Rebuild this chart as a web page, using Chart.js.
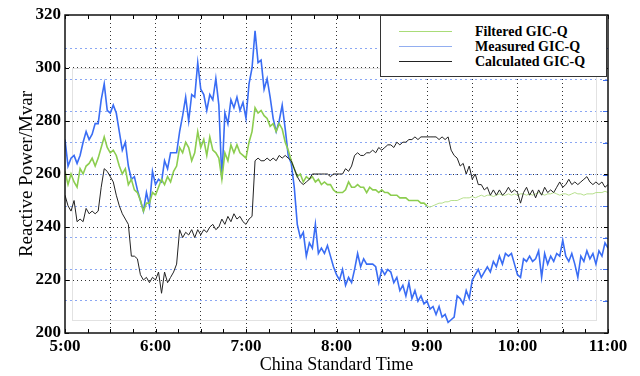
<!DOCTYPE html>
<html>
<head>
<meta charset="utf-8">
<title>Reactive power</title>
<script src="https://cdn.jsdelivr.net/npm/chart.js@4.4.0/dist/chart.umd.min.js"></script>
<style>
  html, body { margin: 0; padding: 0; background: #fff; }
  #wrap { position: relative; width: 640px; height: 376px; }
  #legend {
    position: absolute; left: 380px; top: 15px; width: 227px; height: 62px;
    box-sizing: border-box; border: 1px solid #333; background: #fff;
    padding-top: 8px;
    font: bold 14px "Liberation Serif", "Times New Roman", serif; color: #000;
  }
  .row { display: flex; align-items: center; height: 15px; }
  .swatch { width: 53px; margin-left: 18px; margin-right: 23px; border-top: 1.5px solid; }
</style>
</head>
<body>
<div id="wrap">
  <canvas id="chart" width="640" height="376"></canvas>
  <div id="legend">
    <div class="row"><span class="swatch" style="border-color:#a9dc78"></span>Filtered GIC-Q</div>
    <div class="row"><span class="swatch" style="border-color:#92aef0"></span>Measured GIC-Q</div>
    <div class="row"><span class="swatch" style="border-color:#222"></span>Calculated GIC-Q</div>
  </div>
</div>
<script>
// samples every 2 minutes starting at 5:00
const sampleStep = 2;

const timeLabels = ["5:00", "6:00", "7:00", "8:00", "9:00", "10:00", "11:00"];
const yTicks = [200, 220, 240, 260, 280, 300, 320];
// blue dotted lines of the overlaid second axis
const blueGrid = [212.1, 224.0, 236.0, 247.9, 259.8, 271.7, 283.7, 295.6, 307.5];

const measured = [
  273, 263, 266, 267, 264, 267, 272, 276, 273, 275,
  279, 279, 288, 294, 284, 283, 286, 283, 276, 269,
  272, 263, 258, 259, 254, 250, 246, 253, 248, 261,
  256, 258, 257, 265, 262, 268, 268, 268, 276, 282,
  289, 280, 290, 289, 302, 292, 290, 284, 290, 288,
  296, 286, 258, 283, 279, 288, 285, 289, 284, 287,
  281, 294, 300, 314, 302, 303, 292, 296, 289, 281,
  276, 280, 286, 277, 267, 264, 255, 241, 236, 238,
  229, 234, 232, 241, 230, 232, 230, 233, 229, 225,
  222, 220, 224, 218, 221, 219, 224, 230, 225, 228,
  226, 226, 226, 225, 219, 224, 222, 224, 223, 219,
  221, 216, 218, 214, 219, 213, 216, 212, 214, 211,
  212, 209, 210, 207, 210, 206, 207, 204, 205, 206,
  214, 213, 211, 216, 213, 220, 222, 224, 221, 223,
  225, 223, 227, 225, 229, 226, 230, 229, 230, 226,
  222, 221, 228, 227, 229, 227, 228, 231, 221, 230,
  226, 229, 227, 230, 229, 235, 229, 227, 230, 226,
  221, 229, 227, 231, 228, 230, 226, 231, 229, 234,
  232
];

const filtered = [
  261, 256, 260, 257, 255, 262, 260, 263, 264, 266,
  263, 266, 270, 274, 270, 268, 269, 267, 263, 260,
  262, 256, 258, 254, 253, 250, 246, 249, 249, 253,
  252, 255, 258, 256, 259, 257, 261, 263, 270, 268,
  272, 270, 265, 268, 276, 270, 273, 267, 274, 269,
  268, 266, 258, 268, 265, 271, 268, 271, 268, 267,
  266, 272, 276, 285, 283, 284, 282, 281, 278, 279,
  276, 279, 277, 272, 269, 265, 262, 259, 260, 257,
  259, 258, 259, 257, 258, 256, 257, 256, 256, 254,
  253, 253, 253, 254, 257, 255, 255, 256, 255, 255,
  253, 255, 254, 254, 253, 254, 253, 253, 252, 252,
  252, 251, 251, 251, 250, 250, 250, 250, 249, 249,
  248, 247.5, 248, 248.5, 249, 249, 249.5, 249.5, 250, 250,
  250, 250.5, 251, 251, 251, 251.5, 251, 251.5, 252, 251.5,
  252, 252, 251.5, 252, 252.5, 252, 252, 252.5, 252, 252.5,
  252, 252.5, 252.5, 252, 252.5, 252, 252.5, 253, 252.5, 252,
  252.5, 252.5, 253, 252.5, 252, 252.5, 252.5, 252, 252.5, 253,
  252.5, 252.5, 252, 252.5, 252.5, 252.5, 253, 253, 253, 253.5,
  253
];

const calculated = [
  252, 248, 246, 250, 242, 243, 242, 247, 245, 246,
  245, 246, 255, 262, 261, 259, 257, 252, 248, 245,
  243, 241, 229, 229, 228, 222, 220, 221, 219, 221,
  220, 223, 215, 223, 219, 221, 223, 226, 239, 236,
  238, 237, 239, 236, 239, 237, 239, 238, 240, 241,
  239, 240, 243, 241, 244, 242, 245, 243, 244, 242,
  241, 243, 244, 265, 266, 265, 265, 266, 265, 266,
  265, 267, 266, 267, 266, 265, 262, 259, 257, 256,
  257, 258, 260, 260, 260, 260, 260, 260, 259, 260,
  260, 260, 260, 262, 261, 263, 267, 268, 267, 267,
  268, 268, 269, 268, 270, 269, 270, 271, 271, 270,
  272, 271, 272, 272, 273, 273, 274, 273, 274, 274,
  274, 274, 274, 274, 273, 274, 273, 274, 269, 267,
  266, 263, 264, 260, 263, 258, 260, 256, 256, 254,
  255, 252, 254, 252, 254, 252, 253, 255, 253, 254,
  253, 249, 253, 255, 252, 254, 251, 254, 252, 255,
  253, 254, 253, 255, 257, 255, 256, 258, 256, 257,
  256, 257, 258, 259, 257, 256, 257, 256, 257, 255,
  256
];

const serif = '"Liberation Serif", "Times New Roman", serif';

function toPoints(values) {
  return values.map((v, i) => ({ x: i * sampleStep, y: v }));
}

// faint inner box left over from the overlaid axes (minutes / Mvar)
const innerBox = { x0: 4.6, x1: 352, y0: 205, y1: 300 };

const framePlugin = {
  id: "framePlugin",
  beforeDatasetsDraw(chart) {
    const { ctx, scales: { x, y } } = chart;
    const l = Math.round(x.getPixelForValue(innerBox.x0)) + 0.5;
    const r = Math.round(x.getPixelForValue(innerBox.x1)) + 0.5;
    const t = Math.round(y.getPixelForValue(innerBox.y1)) + 0.5;
    const b = Math.round(y.getPixelForValue(innerBox.y0)) + 0.5;
    ctx.save();
    ctx.strokeStyle = "#e2e2e2";
    ctx.lineWidth = 1;
    ctx.strokeRect(l, t, r - l, b - t);
    ctx.restore();
  },
  afterDatasetsDraw(chart) {
    const { ctx, chartArea: a, scales: { x, y } } = chart;
    ctx.save();
    // inward tick marks
    ctx.strokeStyle = "#000";
    ctx.lineWidth = 1;
    ctx.beginPath();
    x.ticks.forEach((t) => {
      const px = Math.round(x.getPixelForValue(t.value)) + 0.5;
      ctx.moveTo(px, a.bottom);
      ctx.lineTo(px, a.bottom - 4);
      ctx.moveTo(px, a.top);
      ctx.lineTo(px, a.top + 4);
    });
    yTicks.forEach((v) => {
      const py = Math.round(y.getPixelForValue(v)) + 0.5;
      ctx.moveTo(a.left, py);
      ctx.lineTo(a.left + 4, py);
      ctx.moveTo(a.right, py);
      ctx.lineTo(a.right - 4, py);
    });
    ctx.stroke();
    ctx.strokeStyle = "#3d6ff0";
    ctx.beginPath();
    blueGrid.forEach((v) => {
      const py = Math.round(y.getPixelForValue(v)) + 0.5;
      ctx.moveTo(a.right, py);
      ctx.lineTo(a.right - 5, py);
    });
    ctx.stroke();
    // plot frame
    ctx.strokeStyle = "#111";
    ctx.lineWidth = 1.5;
    ctx.strokeRect(a.left, a.top, a.right - a.left, a.bottom - a.top);
    ctx.restore();
  },
};

new Chart(document.getElementById("chart"), {
  type: "line",
  data: {
    datasets: [
      {
        label: "Calculated GIC-Q",
        data: toPoints(calculated),
        borderColor: "#222",
        borderWidth: 1,
        pointRadius: 0,
      },
      {
        label: "Filtered GIC-Q",
        data: toPoints(filtered),
        borderColor: "#8ccd4f",
        borderWidth: 1.6,
        pointRadius: 0,
        segment: {
          borderColor: (c) => (c.p0.parsed.x >= 240 ? "#b6df8c" : undefined),
          borderWidth: (c) => (c.p0.parsed.x >= 240 ? 1 : undefined),
        },
      },
      {
        label: "Measured GIC-Q",
        data: toPoints(measured),
        borderColor: "#3a6df4",
        borderWidth: 1.6,
        pointRadius: 0,
      },
    ],
  },
  options: {
    responsive: false,
    animation: false,
    devicePixelRatio: 1,
    layout: { padding: { top: 15, right: 32, left: 0, bottom: 0 } },
    plugins: {
      legend: { display: false },
      tooltip: { enabled: false },
    },
    scales: {
      x: {
        type: "linear",
        min: 0,
        max: 360,
        ticks: {
          stepSize: 15,
          autoSkip: false,
          maxRotation: 0,
          padding: 3,
          color: "#000",
          font: { family: serif, size: 17, weight: "bold" },
          callback: (v) => (v % 60 === 0 ? timeLabels[v / 60] : ""),
        },
        grid: {
          drawTicks: false,
          lineWidth: 1,
          color: (c) =>
            c.tick && c.tick.value % 30 === 0 && c.tick.value > 0 && c.tick.value < 360
              ? "#333"
              : "rgba(0,0,0,0)",
        },
        border: { display: false, dash: [1, 3] },
        title: {
          display: true,
          text: "China Standard Time",
          color: "#000",
          font: { family: serif, size: 18 },
          padding: { top: 0, bottom: 0 },
        },
        afterFit: (s) => { s.height = 43; },
      },
      y: {
        min: 200,
        max: 320,
        afterBuildTicks: (s) => { s.ticks = yTicks.map((v) => ({ value: v })); },
        ticks: {
          padding: 4,
          color: "#000",
          font: { family: serif, size: 17, weight: "bold" },
        },
        grid: {
          drawTicks: false,
          lineWidth: 1,
          color: (c) =>
            c.tick && c.tick.value > 200 && c.tick.value < 320 ? "#333" : "rgba(0,0,0,0)",
        },
        border: { display: false, dash: [1, 3] },
        title: {
          display: true,
          text: "Reactive Power/Mvar",
          color: "#000",
          font: { family: serif, size: 19 },
          padding: { top: 16, bottom: 0 },
        },
        afterFit: (s) => { s.width = 65; },
      },
      y2: {
        position: "right",
        min: 200,
        max: 320,
        afterBuildTicks: (s) => { s.ticks = blueGrid.map((v) => ({ value: v })); },
        ticks: { display: false },
        grid: { drawTicks: false, lineWidth: 1, color: "#8ba7f3" },
        border: { display: false, dash: [2, 3] },
        afterFit: (s) => { s.width = 0; },
      },
    },
  },
  plugins: [framePlugin],
});
</script>
</body>
</html>
